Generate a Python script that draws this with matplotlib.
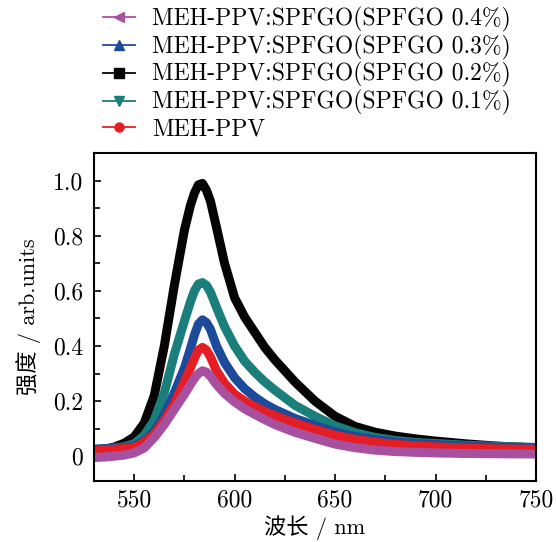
import numpy as np
import matplotlib
matplotlib.use("Agg")
import matplotlib.pyplot as plt
from matplotlib.lines import Line2D

plt.rcParams['font.family'] = ['cmr10', 'DejaVu Serif', 'Noto Sans CJK SC']
plt.rcParams['axes.formatter.use_mathtext'] = True
plt.rcParams['mathtext.fontset'] = 'cm'

# wavelength (nm) and PL intensity
wl = [530, 535, 540, 545, 550, 555, 560, 565, 570, 575, 578, 580, 582, 584, 586, 588, 591,
      595, 600, 605, 610, 615, 620, 630, 640, 650, 660, 670, 680, 690, 700, 715, 730, 750]

pl_02 = [0.02, 0.025, 0.033, 0.047, 0.07, 0.12, 0.22, 0.40, 0.62, 0.82, 0.91, 0.955, 0.985, 0.99, 0.965, 0.925, 0.83,
         0.70, 0.575, 0.505, 0.45, 0.395, 0.35, 0.27, 0.20, 0.145, 0.108, 0.087, 0.073, 0.063, 0.055, 0.045, 0.037, 0.03]
pl_01 = [0.025, 0.027, 0.03, 0.035, 0.045, 0.075, 0.13, 0.23, 0.37, 0.49, 0.56, 0.60, 0.625, 0.63, 0.62, 0.595, 0.54,
         0.47, 0.40, 0.345, 0.305, 0.27, 0.24, 0.185, 0.145, 0.11, 0.085, 0.068, 0.057, 0.05, 0.046, 0.04, 0.036, 0.032]
pl_03 = [0.025, 0.027, 0.03, 0.032, 0.037, 0.055, 0.09, 0.15, 0.23, 0.32, 0.39, 0.44, 0.48, 0.495, 0.485, 0.46, 0.40,
         0.34, 0.285, 0.245, 0.215, 0.19, 0.17, 0.137, 0.112, 0.088, 0.071, 0.06, 0.052, 0.046, 0.042, 0.037, 0.033, 0.03]
pl_meh = [0.02, 0.022, 0.025, 0.028, 0.032, 0.05, 0.08, 0.13, 0.19, 0.27, 0.32, 0.355, 0.385, 0.395, 0.385, 0.36, 0.31,
          0.265, 0.225, 0.20, 0.18, 0.162, 0.147, 0.12, 0.097, 0.076, 0.061, 0.05, 0.043, 0.038, 0.034, 0.03, 0.027, 0.025]
pl_04 = [-0.005, -0.003, 0.0, 0.004, 0.012, 0.03, 0.068, 0.115, 0.17, 0.225, 0.26, 0.283, 0.30, 0.31, 0.305, 0.29, 0.26,
         0.228, 0.197, 0.172, 0.152, 0.133, 0.115, 0.087, 0.065, 0.044, 0.031, 0.022, 0.017, 0.014, 0.012, 0.01, 0.009, 0.008]

labels = ['MEH-PPV:SPFGO(SPFGO 0.4%)', 'MEH-PPV:SPFGO(SPFGO 0.3%)',
          'MEH-PPV:SPFGO(SPFGO 0.2%)', 'MEH-PPV:SPFGO(SPFGO 0.1%)', 'MEH-PPV']
colors = ['#A8509F', '#1E4A9C', '#060404', '#1A7F7A', '#E51E25']
markers = ['<', '^', 's', 'v', 'o']

xticks = [550, 600, 650, 700, 750]
yticks = [0, 0.2, 0.4, 0.6, 0.8, 1.0]
ytick_labels = ['0', '0.2', '0.4', '0.6', '0.8', '1.0']

fig = plt.figure(figsize=(5.56, 5.42), dpi=100)
ax = fig.add_axes([0.169, 0.1125, 0.795, 0.605])

# draw order: black, teal, blue, red, magenta on top
series = [(pl_02, 2), (pl_01, 3), (pl_03, 1), (pl_meh, 4), (pl_04, 0)]
for vals, i in series:
    ax.plot(wl, vals, color=colors[i], lw=6.5, solid_capstyle='butt', solid_joinstyle='round')

ax.set_xlim(530, 750)
ax.set_ylim(-0.09, 1.1)
ax.set_xticks(xticks)
ax.set_xticklabels([str(t) for t in xticks])
ax.set_xticks(np.arange(575, 750, 50), minor=True)
ax.set_yticks(yticks)
ax.set_yticklabels(ytick_labels)
ax.set_yticks(np.arange(0.1, 1.1, 0.2), minor=True)
ax.tick_params(which='both', direction='in', labelsize=17, width=1.2)
ax.tick_params(which='major', length=5)
ax.tick_params(axis='y', which='major', pad=8)
ax.tick_params(axis='x', which='major', pad=6)
ax.tick_params(which='minor', length=4)
for s in ax.spines.values():
    s.set_linewidth(1.5)

ax.set_xlabel('波长 / nm', fontsize=16, labelpad=3)
ax.set_ylabel('强度 / arb.units', fontsize=16, labelpad=8)

handles = [Line2D([], [], color=c, marker=m, lw=1.3, ms=6.5) for c, m in zip(colors, markers)]
fig.legend(handles, labels, loc='upper left', bbox_to_anchor=(0.185, 0.988),
           frameon=False, fontsize=17, handlelength=1.36, labelspacing=0.12,
           handletextpad=0.72, borderaxespad=0, borderpad=0)

fig.savefig('out.png', dpi=100)
